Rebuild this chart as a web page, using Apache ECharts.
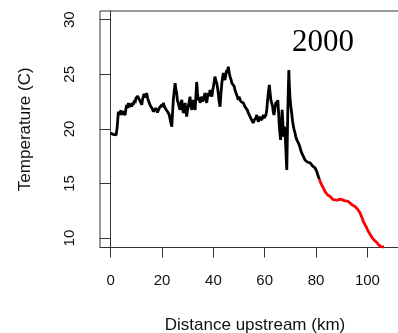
<!DOCTYPE html>
<html>
<head>
<meta charset="utf-8">
<script src="https://cdn.jsdelivr.net/npm/echarts@6/dist/echarts.min.js"></script>
<style>
  html, body { margin: 0; padding: 0; background: #fff; }
  #chart { width: 398px; height: 333px; }
</style>
</head>
<body>
<div id="chart"></div>
<script>
// Stream temperature profile, year 2000: distance upstream (km) vs temperature (C)
const yearLabel = '2000';

// Lower reach (black trace)
const lowerKm = [
  0.0, 0.1, 1.0, 2.1, 2.5, 2.8, 3.0, 3.3, 3.6, 4.0, 4.3, 4.6, 4.9, 5.2, 5.6, 5.9,
  6.2, 6.5, 6.9, 7.2, 7.5, 7.8, 8.2, 8.5, 8.8, 9.2, 9.5, 9.8, 10.1, 10.5, 10.8,
  11.1, 11.4, 11.8, 12.1, 12.4, 12.7, 13.0, 13.4, 13.7, 14.0, 14.4, 14.7, 15.0,
  15.3, 15.7, 16.0, 16.3, 16.6, 16.9, 17.3, 17.6, 17.9, 18.2, 18.6, 18.9, 19.2,
  19.6, 19.9, 20.2, 20.5, 20.9, 21.2, 21.5, 21.8, 22.1, 22.4, 22.8, 23.1, 23.4,
  23.8, 24.1, 24.4, 24.8, 25.1, 25.4, 25.7, 26.0, 26.3, 26.7, 27.0, 27.4, 27.7,
  28.0, 28.3, 28.7, 29.0, 29.3, 29.6, 29.9, 30.2, 30.6, 30.9, 31.2, 31.6, 31.9,
  32.2, 32.6, 32.9, 33.2, 33.5, 33.8, 34.1, 34.5, 34.8, 35.1, 35.5, 35.8, 36.1,
  36.4, 36.7, 37.0, 37.4, 37.7, 38.0, 38.4, 38.7, 39.0, 39.4, 39.7, 40.0, 40.3,
  40.6, 41.0, 41.3, 41.6, 41.9, 42.2, 42.6, 42.9, 43.3, 43.6, 43.9, 44.2, 44.5,
  44.9, 45.2, 45.5, 45.8, 46.2, 46.5, 46.9, 47.2, 47.5, 47.8, 48.1, 48.4, 48.8,
  49.1, 49.4, 49.7, 50.0, 50.4, 50.7, 51.1, 51.4, 51.7, 52.0, 52.3, 52.7, 53.0,
  53.3, 53.6, 54.0, 54.3, 54.6, 54.9, 55.2, 55.6, 55.9, 56.2, 56.6, 56.9, 57.2,
  57.5, 57.9, 58.2, 58.5, 58.8, 59.2, 59.5, 59.8, 60.1, 60.5, 60.8, 61.1, 61.4,
  61.8, 62.1, 62.4, 62.8, 63.1, 63.3, 63.6, 64.0, 64.4, 64.7, 65.1, 65.4, 65.7,
  66.0, 66.2, 66.5, 66.8, 67.1, 67.3, 67.5, 67.7, 68.0, 68.2, 68.4, 68.6, 68.8,
  69.0, 69.2, 69.4, 69.6, 69.9, 70.2, 70.5, 70.8, 71.2, 71.5, 71.8, 72.1, 72.5,
  72.8, 73.1, 73.5, 73.8, 74.1, 74.4, 74.8, 75.1, 75.4, 75.7, 76.0, 76.4, 76.7,
  77.0, 77.4, 77.7, 78.0, 78.3, 78.7, 79.0, 79.3, 79.6, 80.0, 80.3, 80.6, 80.9,
  81.3
];
const lowerTemp = [
  19.6, 19.45, 19.5, 19.45, 20.1, 21.0, 21.58, 21.3, 21.46, 21.7, 21.28, 21.6, 21.46, 21.75, 21.28, 21.8,
  22.2, 21.9, 22.38, 22.0, 22.04, 22.3, 22.04, 22.4, 22.2, 22.6, 22.38, 22.8, 22.65, 23.0, 23.11,
  22.7, 22.84, 22.4, 22.2, 22.7, 22.65, 23.2, 23.11, 22.9, 23.29, 22.8, 22.65, 22.4,
  22.2, 22.35, 22.04, 21.8, 21.58, 21.75, 21.46, 21.9, 21.74, 21.5, 21.58, 21.9, 22.04,
  21.95, 22.2, 22.0, 22.38, 22.05, 22.2, 21.8, 21.92, 21.6, 21.58, 21.3, 21.13, 20.6,
  20.21, 21.5, 22.65, 23.6, 24.18, 23.6, 23.29, 22.6, 22.38, 22.0, 21.74, 22.4, 22.65,
  21.9, 21.46, 22.0, 22.38, 21.6, 21.13, 21.7, 22.04, 22.5, 22.96, 22.2, 21.74, 22.3,
  22.65, 22.1, 21.74, 23.0, 24.3, 23.3, 22.65, 22.9, 22.38, 22.7, 22.96, 22.5, 22.38,
  22.9, 23.29, 22.8, 22.38, 22.9, 23.29, 23.0, 23.57, 23.2, 22.96, 23.5, 23.87, 24.3,
  24.79, 24.4, 24.2, 23.8, 23.29, 22.6, 22.04, 23.1, 24.2, 24.7, 25.12, 24.7, 24.48,
  25.0, 25.4, 25.2, 25.7, 25.1, 24.79, 24.5, 24.2, 24.35, 24.03, 23.9, 23.57, 23.4,
  23.11, 22.9, 22.65, 22.95, 22.84, 22.5, 22.38, 22.55, 22.38, 22.2, 22.04, 22.15, 21.92,
  21.7, 21.46, 21.3, 21.13, 20.95, 20.82, 20.7, 20.55, 20.8, 20.67, 21.0, 21.28, 20.9,
  20.67, 20.9, 21.13, 20.8, 20.67, 21.0, 21.28, 21.0, 20.98, 21.3, 21.74, 22.6, 23.29,
  24.03, 23.3, 22.65, 22.3, 22.04, 21.6, 21.28, 21.9, 22.5, 22.2, 22.65, 21.5, 20.21,
  19.4, 18.99, 20.5, 21.74, 20.4, 19.3, 19.8, 20.21, 19.3, 18.38, 17.2, 16.25, 19.0,
  21.74, 23.6, 25.4, 24.0, 22.65, 22.0, 21.46, 20.8, 20.21, 19.9, 19.63, 19.3, 18.99,
  18.85, 18.72, 18.5, 18.26, 18.0, 17.8, 17.65, 17.47, 17.3, 17.16, 17.1, 17.01, 16.95,
  16.89, 16.8, 16.89, 16.75, 16.71, 16.6, 16.55, 16.5, 16.43, 16.3, 16.09, 15.85, 15.64,
  15.4
];

// Upper reach (red trace)
const upperKm = [
  81.3, 81.6, 81.9, 82.2, 82.6, 82.9, 83.2, 83.5, 83.9, 84.2, 84.5, 84.8, 85.2,
  85.5, 85.8, 86.1, 86.5, 86.8, 87.1, 87.4, 87.8, 88.1, 88.4, 88.7, 89.1, 89.4,
  89.7, 90.0, 90.3, 90.6, 91.0, 91.3, 91.6, 92.0, 92.3, 92.6, 93.0, 93.3, 93.6,
  93.9, 94.3, 94.6, 94.9, 95.2, 95.6, 95.9, 96.2, 96.5, 96.9, 97.2, 97.5, 97.8,
  98.1, 98.4, 98.8, 99.1, 99.4, 99.8, 100.1, 100.4, 100.8, 101.1, 101.4, 101.7,
  102.0, 102.3, 102.7, 103.0, 103.4, 103.7, 104.0, 104.3, 104.6, 104.9, 105.5,
  106.0, 106.5
];
const upperTemp = [
  15.4, 15.18, 15.05, 14.88, 14.75, 14.57, 14.45, 14.26, 14.2, 14.12, 13.95, 13.96, 13.85,
  13.81, 13.7, 13.66, 13.55, 13.5, 13.62, 13.5, 13.6, 13.57, 13.48, 13.44, 13.6, 13.57,
  13.42, 13.44, 13.5, 13.35, 13.45, 13.41, 13.3, 13.26, 13.38, 13.35, 13.22, 13.2, 13.18,
  13.14, 13.0, 13.05, 12.95, 12.89, 12.78, 12.74, 12.65, 12.53, 12.4, 12.22, 12.1, 11.92,
  11.75, 11.52, 11.4, 11.22, 11.05, 10.91, 10.72, 10.6, 10.45, 10.3, 10.2, 10.09,
  10.0, 9.91, 9.8, 9.78, 9.65, 9.6, 9.48, 9.39, 9.3, 9.23, 9.2,
  9.18, 9.2
];

// Axis tick positions
const xTicks = [0, 20, 40, 60, 80, 100];
const yTicks = [10, 15, 20, 25, 30];

const pairs = (xs, ys) => xs.map((x, i) => [x, ys[i]]);

const axisColor = '#333';
const labelFont = { fontFamily: '"Liberation Sans", Arial, sans-serif', fontSize: 15, color: '#111' };
const nameFont = { fontFamily: '"Liberation Sans", Arial, sans-serif', fontSize: 17, color: '#111' };

const chart = echarts.init(document.getElementById('chart'), null, { renderer: 'canvas' });
chart.setOption({
  animation: false,
  backgroundColor: '#fff',
  grid: {
    left: 100, top: 11, right: -12, bottom: 85.5,
    outerBoundsMode: 'none', containLabel: false,
    show: true, borderColor: axisColor, borderWidth: 1, backgroundColor: 'transparent'
  },
  xAxis: {
    type: 'value', min: -4.17, max: 116.6,
    name: 'Distance upstream (km)', nameLocation: 'middle', nameGap: 69,
    nameTextStyle: nameFont,
    axisLine: { show: true, lineStyle: { color: axisColor, width: 1 } },
    axisTick: { show: true, inside: false, length: 10, customValues: xTicks, lineStyle: { color: axisColor } },
    axisLabel: { show: true, margin: 26, customValues: xTicks, ...labelFont },
    splitLine: { show: false }
  },
  yAxis: {
    type: 'value', min: 9.14, max: 30.8,
    name: 'Temperature (C)', nameLocation: 'middle', nameGap: 66,
    nameTextStyle: nameFont,
    axisLine: { show: true, lineStyle: { color: axisColor, width: 1 } },
    axisTick: { show: true, inside: false, length: 11, customValues: yTicks, lineStyle: { color: axisColor } },
    axisLabel: { show: true, rotate: 90, margin: 23, customValues: yTicks, ...labelFont },
    splitLine: { show: false }
  },
  series: [
    {
      type: 'line', name: 'lower', data: pairs(lowerKm, lowerTemp),
      showSymbol: false, symbol: 'none', clip: true,
      lineStyle: { color: '#000', width: 2.8 }
    },
    {
      type: 'line', name: 'upper', data: pairs(upperKm, upperTemp),
      showSymbol: false, symbol: 'none', clip: true,
      lineStyle: { color: '#ff0000', width: 2.8 }
    }
  ],
  graphic: [{
    type: 'text', left: 292, top: 27,
    style: { text: yearLabel, font: '31px "Liberation Serif", "Times New Roman", serif', fill: '#000' }
  }]
});
</script>
</body>
</html>
